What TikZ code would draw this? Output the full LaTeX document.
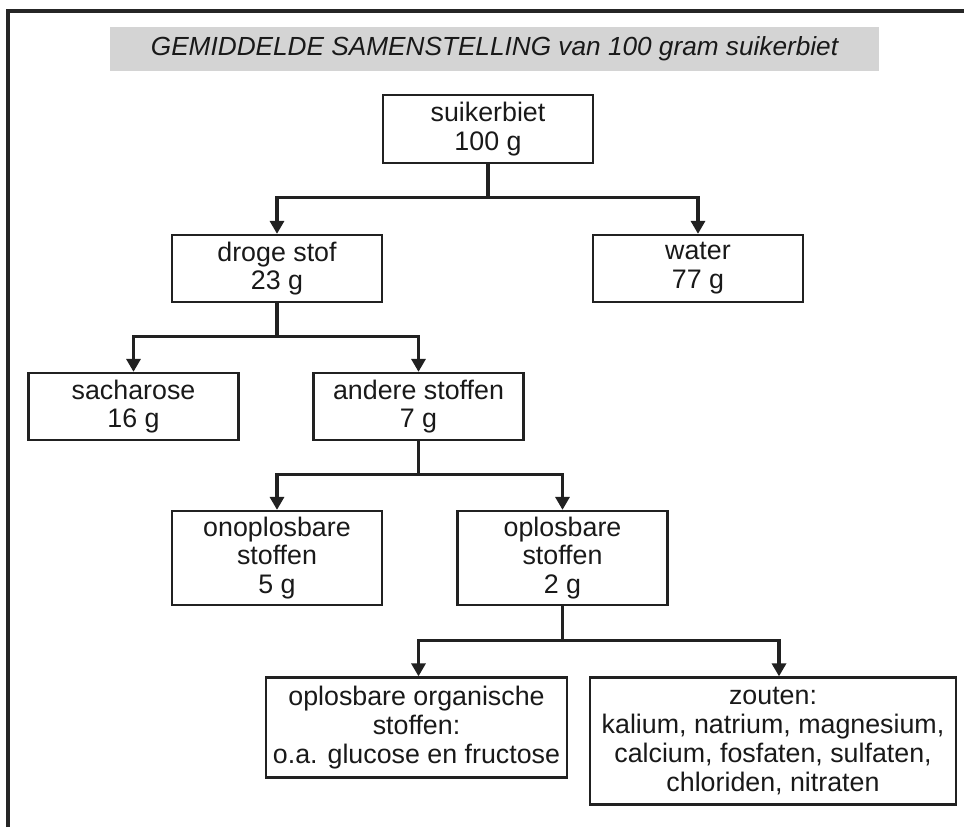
\documentclass[tikz,border=0pt]{standalone}
\usepackage{fontspec}
\setmainfont{Liberation Sans}
\usepackage{tikz}
\usetikzlibrary{arrows.meta}

\begin{document}
\begin{tikzpicture}[x=0.5pt,y=-0.5pt,
  box/.style={draw=black!87,line width=1.15pt,align=center,inner sep=0pt,text=black!90,
    minimum width=105pt,minimum height=33.5pt,font=\fontsize{13.4}{14.4}\selectfont},
  arr/.style={-{Triangle[length=6.5pt,width=7pt]},line width=1.6pt,draw=black!87}]

  \useasboundingbox (0,0) rectangle (964,827);
  \draw[line width=1.6pt,black!85] (8,827) -- (8,11) -- (964,11);

  \node[fill=black!17,minimum width=384.5pt,minimum height=22pt,inner sep=0pt,
    text=black!90,font=\fontsize{13.1}{14.4}\selectfont\itshape] (0) at (494.5,49)
    {GEMIDDELDE SAMENSTELLING van 100 gram suikerbiet};

  \node[box,minimum height=34pt] (1) at (488,129) {suikerbiet\\100 g};
  \node[box] (2) at (277,268.5) {droge stof\\23 g};
  \node[box] (3) at (698,268.5) {water\\77 g};
  \node[box] (4) at (133.5,406.5) {sacharose\\16 g};
  \node[box] (5) at (418.5,406.5) {andere stoffen\\7 g};
  \node[box,minimum height=47pt] (6) at (277,558) {onoplosbare\\stoffen\\5 g};
  \node[box,minimum height=47pt] (7) at (562.5,558) {oplosbare\\stoffen\\2 g};
  \node[box,minimum width=150.5pt,minimum height=50pt] (8) at (416.5,727.5)
    {oplosbare organische\\stoffen:\\o.a. glucose en fructose};
  \node[box,minimum width=183pt,minimum height=63.5pt] (9) at (773,741)
    {zouten:\\kalium, natrium, magnesium,\\calcium, fosfaten, sulfaten,\\chloriden, nitraten};

  \draw[arr] (1.south) -- ++(0,33) -| (2.north);
  \draw[arr] (1.south) -- ++(0,33) -| (3.north);
  \draw[arr] (2.south) -- ++(0,33) -| (4.north);
  \draw[arr] (2.south) -- ++(0,33) -| (5.north);
  \draw[arr] (5.south) -- ++(0,33) -| (6.north);
  \draw[arr] (5.south) -- ++(0,33) -| (7.north);
  \draw[arr] (7.south) -- ++(0,34) -| ([xshift=1pt]8.north);
  \draw[arr] (7.south) -- ++(0,34) -| ([xshift=3pt]9.north);

\end{tikzpicture}
\end{document}
